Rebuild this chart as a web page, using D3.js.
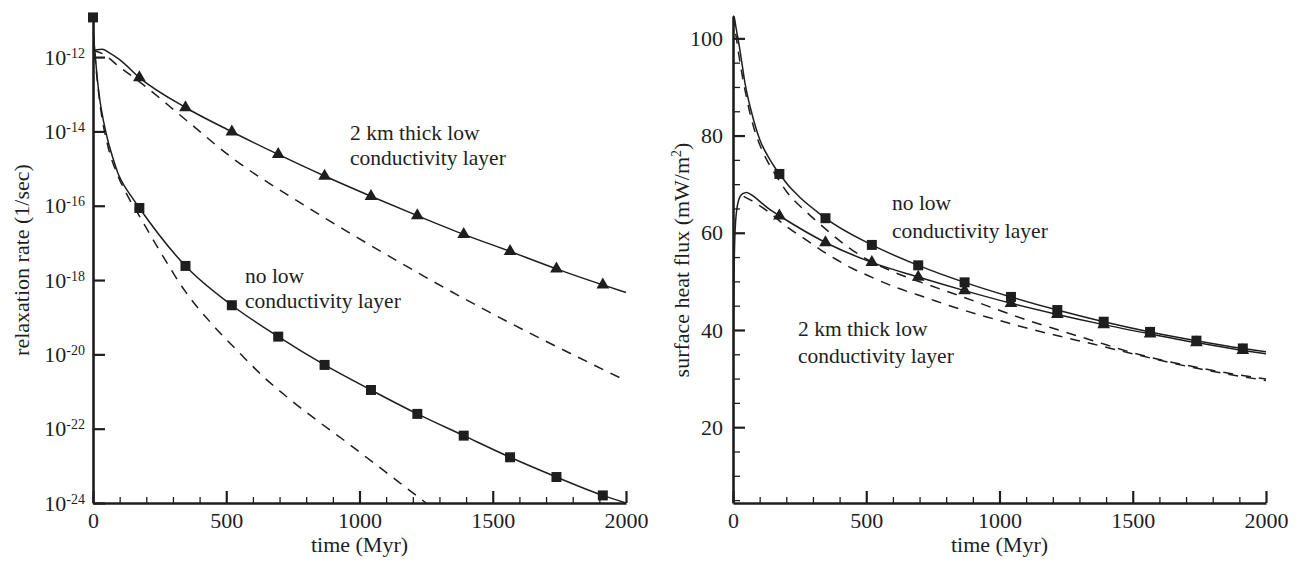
<!DOCTYPE html>
<html><head><meta charset="utf-8">
<script src="https://cdn.jsdelivr.net/npm/d3@7"></script>
<style>
body{margin:0;background:#fff}
text{font-family:"Liberation Serif","Times New Roman",serif;fill:#1e1e1e}
</style>
</head><body>
<svg id="c" width="1302" height="564"></svg>
<script>
// ---------------- data ----------------
const timeTicks = [0, 500, 1000, 1500, 2000];
const timeMinor = [100,200,300,400,600,700,800,900,1100,1200,1300,1400,1600,1700,1800,1900];
const markerTimes = [174, 347, 521, 695, 869, 1043, 1217, 1391, 1565, 1739, 1913];

// left panel: relaxation rate (1/sec)
const rateTicks = [1e-24, 1e-22, 1e-20, 1e-18, 1e-16, 1e-14, 1e-12];
const rateExp = ["-24", "-22", "-20", "-18", "-16", "-14", "-12"];
const rateLayer = [[0,1.41e-12],[15,1.58e-12],[35,1.62e-12],[60,1.32e-12],[100,8.5e-13],[174,2.8e-13],[347,4.4e-14],[521,9.8e-15],[695,2.4e-15],[869,6.3e-16],[1043,1.8e-16],[1217,5.4e-17],[1391,1.7e-17],[1565,5.9e-18],[1739,2.0e-18],[1913,7.4e-19],[2000,4.6e-19]];
const rateLayerDashed = [[0,1.5e-12],[33,1.26e-12],[100,5.4e-13],[170,2.3e-13],[350,2.0e-14],[520,2.0e-15],[814,8.3e-17],[1141,3.3e-18],[1340,5.1e-19],[2000,1.95e-21]];
const rateNone = [[0,1.17e-11],[3,3.2e-12],[7,1.5e-12],[15,3.2e-13],[26,6.8e-14],[40,1.8e-14],[56,5.6e-15],[75,1.9e-15],[94,7.4e-16],[120,3.2e-16],[146,1.7e-16],[174,8.7e-17],[347,2.4e-18],[521,2.1e-19],[695,3.0e-20],[869,5.2e-21],[1043,1.1e-21],[1217,2.5e-22],[1391,6.5e-23],[1565,1.7e-23],[1739,5.0e-24],[1913,1.6e-24],[2000,1.0e-24]];
const rateNoneDashed = [[0,1.17e-11],[5,2.0e-12],[15,2.8e-13],[30,3.5e-14],[56,4.0e-15],[94,6.3e-16],[131,1.78e-16],[176,5.0e-17],[221,1.38e-17],[259,4.8e-18],[345,5.1e-19],[446,6.6e-20],[543,1.23e-20],[645,2.3e-21],[746,5.6e-22],[844,1.6e-22],[945,4.7e-23],[1047,1.3e-23],[1144,3.8e-24],[1250,1.0e-24]];
const rateNoneStartMarker = [0];

// right panel: surface heat flux (mW/m2)
const fluxTicks = [20, 40, 60, 80, 100];
const fluxMinor = [5,10,15,25,30,35,45,50,55,65,70,75,85,90,95];
const fluxNone = [[0,104.6],[4,104.4],[12,102.0],[26,97.6],[45,90.8],[70,84.7],[101,79.1],[139,75.0],[174,72.1],[347,63.0],[521,57.5],[695,53.3],[869,49.8],[1043,46.8],[1217,44.1],[1391,41.7],[1565,39.6],[1739,37.8],[1913,36.2],[2000,35.5]];
const fluxLayer = [[0,25],[2,42],[5,55],[10,62.5],[20,66.5],[35,68.0],[51,68.3],[75,67.6],[110,66.0],[140,64.7],[174,63.5],[347,58.0],[521,53.9],[695,50.9],[869,48.1],[1043,45.5],[1217,43.2],[1391,41.1],[1565,39.2],[1739,37.4],[1913,35.8],[2000,35.1]];
const fluxNoneDashed = [[0,104.6],[10,101],[25,95.5],[50,88],[76,82],[114,76.4],[152,72.6],[202,68.4],[277,64.2],[326,61.8],[388,58.9],[438,56.8],[488,55.0],[600,52.0],[727,49.4],[852,47.0],[977,44.5],[1100,42.1],[1227,39.9],[1351,37.8],[1500,35.3],[1750,32.2],[2000,29.9]];
const fluxLayerDashed = [[40,67.5],[70,66.6],[138,64.1],[200,61.3],[262,59.0],[326,56.6],[388,54.5],[450,52.6],[502,51.3],[600,49.0],[727,46.6],[852,44.3],[977,42.3],[1102,40.4],[1227,38.7],[1351,37.1],[1500,35.1],[1750,32.0],[2000,29.6]];

const annotations = {
  left: [["2 km thick low", "conductivity layer"], ["no low", "conductivity layer"]],
  right: [["no low", "conductivity layer"], ["2 km thick low", "conductivity layer"]]
};

// ---------------- drawing ----------------
const ink = "#1e1e1e";
const svg = d3.select("#c");
svg.append("rect").attr("width",1302).attr("height",564).attr("fill","#fff");

function drawPanel(cfg) {
  const g = svg.append("g");
  const x = cfg.x, y = cfg.y;
  const id = "clip" + cfg.name;
  svg.append("clipPath").attr("id", id).append("rect")
    .attr("x", x.range()[0]).attr("y", y.range()[1] - 4)
    .attr("width", x.range()[1] - x.range()[0] + 2)
    .attr("height", y.range()[0] - y.range()[1] + 4);

  const line = d3.line().x(d => x(d[0])).y(d => y(d[1])).curve(d3.curveMonotoneX);
  const curves = g.append("g").attr("clip-path", `url(#${id})`);
  cfg.series.forEach(s => {
    curves.append("path").attr("d", line(s.data)).attr("fill","none")
      .attr("stroke", ink).attr("stroke-width", 1.5)
      .attr("stroke-dasharray", s.dashed ? "10,8" : null);
  });
  // markers
  cfg.series.filter(s => s.marker).forEach(s => {
    const pts = s.data.filter(d => s.markerTimes.includes(d[0]));
    const sym = d3.symbol().type(s.marker === "square" ? d3.symbolSquare : d3.symbolTriangle)
      .size(s.marker === "square" ? 100 : 70);
    g.selectAll(null).data(pts).join("path")
      .attr("d", sym).attr("fill", ink)
      .attr("transform", d => `translate(${x(d[0])},${y(d[1])})`);
  });

  // x axis
  const y0 = y.range()[0];
  const xa = g.append("g").attr("transform", `translate(0,${y0})`)
    .call(d3.axisBottom(x).tickValues(timeTicks).tickSize(-12).tickSizeOuter(0).tickPadding(9).tickFormat(d3.format("d")));
  const xm = g.append("g").attr("transform", `translate(0,${y0})`)
    .call(d3.axisBottom(x).tickValues(timeMinor).tickSize(-6).tickSizeOuter(0).tickFormat(""));
  xm.select(".domain").remove();
  xm.selectAll("line").attr("stroke", ink).attr("stroke-width", 1.3);

  // y axis
  const x0 = x.range()[0];
  const ya = g.append("g").attr("transform", `translate(${x0},0)`)
    .call(d3.axisLeft(y).tickValues(cfg.yTicks).tickSize(-12).tickSizeOuter(0).tickPadding(cfg.yPad).tickFormat(cfg.yFormat));
  if (cfg.yMinor) {
    const ym = g.append("g").attr("transform", `translate(${x0},0)`)
      .call(d3.axisLeft(y).tickValues(cfg.yMinor).tickSize(-7).tickSizeOuter(0).tickFormat(""));
    ym.select(".domain").remove();
    ym.selectAll("line").attr("stroke", ink).attr("stroke-width", 1.3);
  }
  [xa, ya].forEach(a => {
    a.select(".domain").attr("stroke", ink).attr("stroke-width", 2.6);
    a.selectAll(".tick line").attr("stroke", ink).attr("stroke-width", 2.2);
    a.selectAll("text").attr("font-size", 22).attr("font-family", null).attr("fill", ink);
  });
  if (cfg.ySuper) {
    ya.selectAll(".tick text").each(function(d, i) {
      const t = d3.select(this).text("");
      t.append("tspan").text("10");
      t.append("tspan").attr("font-size", 14).attr("dy", "-0.5em").text(cfg.ySuper[i]);
    });
  }
  // titles
  const xc = (x.range()[0] + x.range()[1]) / 2;
  g.append("text").attr("x", xc).attr("y", 552).attr("text-anchor","middle").attr("font-size", 22).text("time (Myr)");
  const yt = g.append("text").attr("transform", `translate(${cfg.yTitleX},260) rotate(-90)`)
    .attr("text-anchor","middle").attr("font-size", 22);
  cfg.yTitle(yt);
  // annotations
  cfg.notes.forEach(n => {
    n.lines.forEach((l, i) => {
      g.append("text").attr("x", n.x).attr("y", n.y + i * n.dy).attr("font-size", 21.5).text(l);
    });
  });
}

drawPanel({
  name: "L",
  x: d3.scaleLinear().domain([0, 2000]).range([93, 626]),
  y: d3.scaleLog().domain([1e-24, 1.2e-11]).range([503, 17]),
  yTicks: rateTicks, yPad: 8, yFormat: () => "", ySuper: rateExp,
  yMinor: null, yTitleX: 29,
  yTitle: t => t.text("relaxation rate (1/sec)"),
  series: [
    {data: rateLayerDashed, dashed: true},
    {data: rateNoneDashed, dashed: true},
    {data: rateLayer, marker: "triangle", markerTimes: markerTimes},
    {data: rateNone, marker: "square", markerTimes: rateNoneStartMarker.concat(markerTimes)}
  ],
  notes: [
    {lines: annotations.left[0], x: 350, y: 140, dy: 25},
    {lines: annotations.left[1], x: 245, y: 283, dy: 25}
  ]
});

drawPanel({
  name: "R",
  x: d3.scaleLinear().domain([0, 2000]).range([733, 1266]),
  y: d3.scaleLinear().domain([4.4, 104.6]).range([503, 16]),
  yTicks: fluxTicks, yPad: 10, yFormat: d3.format("d"),
  yMinor: fluxMinor, yTitleX: 689,
  yTitle: t => {
    t.append("tspan").text("surface heat flux (mW/m");
    t.append("tspan").attr("font-size", 14).attr("dy", "-0.6em").text("2");
    t.append("tspan").attr("dy", "0.38em").text(")");
  },
  series: [
    {data: fluxNoneDashed, dashed: true},
    {data: fluxLayerDashed, dashed: true},
    {data: fluxLayer, marker: "triangle", markerTimes: markerTimes},
    {data: fluxNone, marker: "square", markerTimes: markerTimes}
  ],
  notes: [
    {lines: annotations.right[0], x: 892, y: 210, dy: 28},
    {lines: annotations.right[1], x: 798, y: 336, dy: 27}
  ]
});
</script>
</body></html>
